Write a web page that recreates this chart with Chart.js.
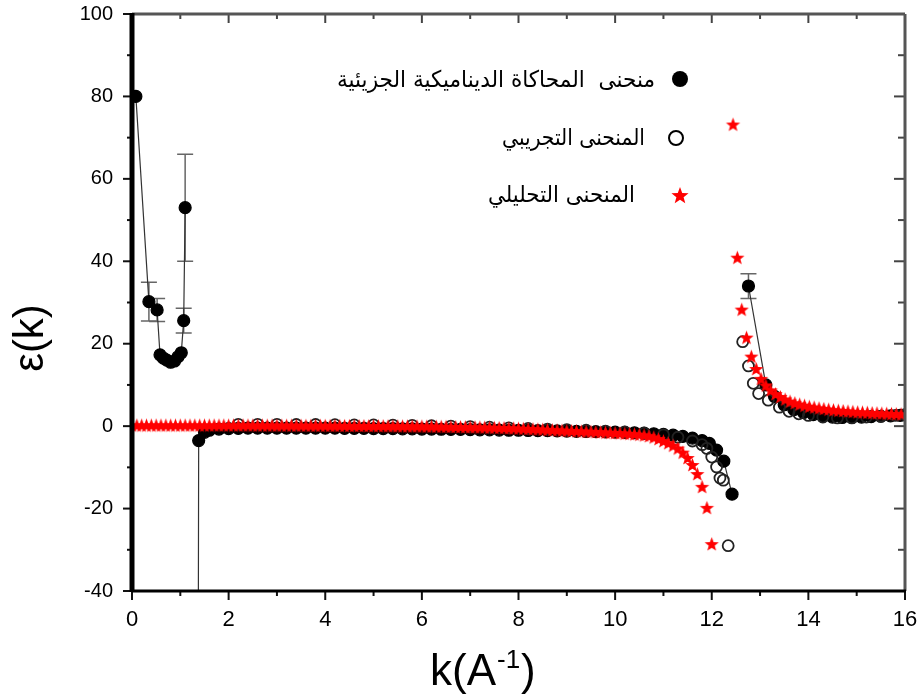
<!DOCTYPE html>
<html>
<head>
<meta charset="utf-8">
<script src="https://cdn.jsdelivr.net/npm/chart.js@4.4.0/dist/chart.umd.min.js"></script>
<style>
html, body { margin: 0; padding: 0; background: #fff; }
#chart1 { display: block; }
</style>
</head>
<body>
<canvas id="chart1" width="919" height="698"></canvas>
<script>
// molecular dynamics curve (filled dots + line), null breaks the line
const mdK = [0.08, 0.35, 0.52, 0.58, 0.65, 0.72, 0.80, 0.88, 0.95, 1.02, 1.07, 1.10, 1.20, 1.33, 1.38, 1.5, 1.6, 1.8,
    2.0, 2.2, 2.4, 2.6, 2.8, 3.0, 3.2, 3.4, 3.6, 3.8, 4.0, 4.2, 4.4, 4.6, 4.8, 5.0, 5.2, 5.4, 5.6, 5.8,
    6.0, 6.2, 6.4, 6.6, 6.8, 7.0, 7.2, 7.4, 7.6, 7.8, 8.0, 8.2, 8.4, 8.6, 8.8, 9.0, 9.2, 9.4, 9.6, 9.8,
    10.0, 10.2, 10.4, 10.6, 10.8, 11.0, 11.2, 11.4, 11.6, 11.8, 11.95, 12.1, 12.25, 12.42, 12.6,
    12.76, 13.12, 13.3, 13.5, 13.7, 13.9, 14.1, 14.3, 14.5, 14.7, 14.9, 15.1, 15.3, 15.5, 15.7, 15.9, 16.0];
const mdE = [80, 30.2, 28.2, 17.3, 16.5, 16.0, 15.5, 15.8, 16.8, 17.8, 25.6, 53, null, -300, -3.5, -1.5, -1.0, -0.7,
    -0.6, -0.55, -0.5, -0.5, -0.5, -0.5, -0.5, -0.5, -0.5, -0.5, -0.5, -0.5, -0.55, -0.55, -0.55, -0.6, -0.6, -0.6, -0.65, -0.65,
    -0.7, -0.7, -0.75, -0.8, -0.8, -0.85, -0.9, -0.9, -0.95, -1.0, -1.0, -1.05, -1.1, -1.1, -1.15, -1.2, -1.25, -1.3, -1.35, -1.4,
    -1.45, -1.5, -1.6, -1.7, -1.85, -2.0, -2.2, -2.5, -2.9, -3.5, -4.2, -5.8, -8.5, -16.5, null,
    34, 10, 7.2, 5.2, 4.0, 3.3, 2.8, 2.4, 2.2, 2.1, 2.1, 2.2, 2.3, 2.4, 2.5, 2.6, 2.7];

// error bars on some MD points
const errK = [0.35, 0.52, 1.07, 1.10, 12.76];
const errMid = [30.2, 28.2, 25.6, 53, 34];
const errHalf = [4.7, 2.8, 3.0, 13, 3.0];

// experimental curve (open circles)
const expK = [2.2, 2.6, 3.0, 3.4, 3.8, 4.2, 4.6, 5.0, 5.4, 5.8, 6.2, 6.6, 7.0, 7.4, 7.8, 8.2, 8.6, 9.0, 9.4, 9.8, 10.2, 10.6, 11.0,
    11.3, 11.6, 11.8, 11.9, 12.0, 12.1, 12.17, 12.24, 12.34,
    12.64, 12.76, 12.86, 12.97, 13.17, 13.4, 13.6, 13.8, 14.0, 14.3, 14.6, 14.9, 15.2, 15.5, 15.8, 16.0];
const expE = [0.45, 0.45, 0.45, 0.4, 0.4, 0.35, 0.3, 0.3, 0.25, 0.2, 0.1, 0.0, -0.1, -0.25, -0.4, -0.55, -0.7, -0.85, -1.0, -1.2, -1.4, -1.7, -2.1,
    -2.7, -3.6, -4.5, -5.4, -7.5, -9.9, -12.6, -13.1, -29,
    20.5, 14.6, 10.4, 7.9, 6.3, 4.6, 3.6, 3.0, 2.6, 2.2, 2.0, 2.0, 2.2, 2.4, 2.6, 2.8];

// analytical curve (red stars)
const starK = [0.0, 0.1, 0.2, 0.3, 0.4, 0.5, 0.6, 0.7, 0.8, 0.9,
    1.0, 1.1, 1.2, 1.3, 1.4, 1.5, 1.6, 1.7, 1.8, 1.9,
    2.0, 2.1, 2.2, 2.3, 2.4, 2.5, 2.6, 2.7, 2.8, 2.9,
    3.0, 3.1, 3.2, 3.3, 3.4, 3.5, 3.6, 3.7, 3.8, 3.9,
    4.0, 4.1, 4.2, 4.3, 4.4, 4.5, 4.6, 4.7, 4.8, 4.9,
    5.0, 5.1, 5.2, 5.3, 5.4, 5.5, 5.6, 5.7, 5.8, 5.9,
    6.0, 6.1, 6.2, 6.3, 6.4, 6.5, 6.6, 6.7, 6.8, 6.9,
    7.0, 7.1, 7.2, 7.3, 7.4, 7.5, 7.6, 7.7, 7.8, 7.9,
    8.0, 8.1, 8.2, 8.3, 8.4, 8.5, 8.6, 8.7, 8.8, 8.9,
    9.0, 9.1, 9.2, 9.3, 9.4, 9.5, 9.6, 9.7, 9.8, 9.9,
    10.0, 10.1, 10.2, 10.3, 10.4, 10.5, 10.6, 10.7, 10.8, 10.9,
    11.0, 11.1, 11.2, 11.3, 11.4, 11.5, 11.6, 11.7, 11.8, 11.9, 12.0,
    12.44, 12.53, 12.62, 12.72, 12.82, 12.92, 13.02, 13.12, 13.22, 13.32,
    13.42, 13.52, 13.62, 13.72, 13.82, 13.92, 14.02, 14.12, 14.22, 14.32,
    14.42, 14.52, 14.62, 14.72, 14.82, 14.92, 15.02, 15.12, 15.22, 15.32,
    15.42, 15.52, 15.62, 15.72, 15.82, 15.92];
const starE = [0.3, 0.3, 0.3, 0.3, 0.3, 0.3, 0.3, 0.3, 0.3, 0.3,
    0.3, 0.3, 0.3, 0.3, 0.3, 0.3, 0.3, 0.3, 0.3, 0.3,
    0.3, 0.3, 0.3, 0.3, 0.3, 0.28, 0.28, 0.28, 0.27, 0.27,
    0.26, 0.26, 0.25, 0.25, 0.24, 0.24, 0.23, 0.23, 0.22, 0.22,
    0.21, 0.2, 0.2, 0.19, 0.18, 0.18, 0.17, 0.16, 0.15, 0.15,
    0.14, 0.13, 0.12, 0.11, 0.1, 0.09, 0.08, 0.07, 0.06, 0.05,
    0.04, 0.03, 0.02, 0.0, -0.02, -0.04, -0.06, -0.08, -0.1, -0.12,
    -0.14, -0.16, -0.19, -0.22, -0.25, -0.28, -0.31, -0.35, -0.39, -0.43,
    -0.47, -0.52, -0.57, -0.62, -0.67, -0.72, -0.78, -0.84, -0.9, -0.96,
    -1.0, -1.05, -1.1, -1.15, -1.2, -1.25, -1.3, -1.36, -1.42, -1.48,
    -1.54, -1.6, -1.67, -1.75, -1.84, -1.95, -2.1, -2.3, -2.6, -3.0,
    -3.5, -4.0, -4.6, -5.3, -6.3, -7.6, -9.3, -11.5, -14.6, -19.7, -28.5,
    73.3, 41, 28.4, 21.6, 17, 14, 11.6, 10, 8.8, 7.9,
    7.2, 6.6, 6.1, 5.7, 5.4, 5.1, 4.85, 4.65, 4.45, 4.3,
    4.15, 4.0, 3.9, 3.8, 3.7, 3.6, 3.5, 3.45, 3.4, 3.3,
    3.25, 3.2, 3.15, 3.1, 3.05, 3.0];

const legendLabels = ['منحنى  المحاكاة الديناميكية الجزيئية', 'المنحنى التجريبي', 'المنحنى التحليلي'];
const xTitle = ['k(A', '-1', ')'];
const yTitle = 'ε(k)';

const toPoints = (ks, es) => ks.map((k, i) => ({ x: k, y: es[i] }));

// filled 5-point star used as point style
function starImage(r, color) {
    const s = Math.ceil(r * 2 + 2);
    const c = document.createElement('canvas');
    c.width = s;
    c.height = s;
    const g = c.getContext('2d');
    g.fillStyle = color;
    g.beginPath();
    for (let i = 0; i < 10; i++) {
        const rad = i % 2 ? r * 0.42 : r;
        const a = -Math.PI / 2 + i * Math.PI / 5;
        g.lineTo(s / 2 + rad * Math.cos(a), s / 2 + 1 + rad * Math.sin(a));
    }
    g.closePath();
    g.fill();
    return c;
}

const starImg = starImage(7.5, '#ff0000');
const legendStar = starImage(9, '#ff0000');

const errorBars = {
    id: 'errorBars',
    beforeDatasetsDraw(chart) {
        const { ctx, chartArea: a, scales: { x, y } } = chart;
        ctx.save();
        ctx.beginPath();
        ctx.rect(a.left, a.top, a.right - a.left, a.bottom - a.top);
        ctx.clip();
        ctx.strokeStyle = '#666';
        ctx.lineWidth = 1.5;
        errK.forEach((k, i) => {
            const px = x.getPixelForValue(k);
            const top = y.getPixelForValue(errMid[i] + errHalf[i]);
            const bot = y.getPixelForValue(errMid[i] - errHalf[i]);
            ctx.beginPath();
            ctx.moveTo(px, top); ctx.lineTo(px, bot);
            ctx.moveTo(px - 8, top); ctx.lineTo(px + 8, top);
            ctx.moveTo(px - 8, bot); ctx.lineTo(px + 8, bot);
            ctx.stroke();
        });
        ctx.restore();
    }
};

const frame = {
    id: 'frame',
    afterDatasetsDraw(chart) {
        const { ctx, chartArea: a, scales: { x, y } } = chart;
        const seg = (x1, y1, x2, y2) => { ctx.beginPath(); ctx.moveTo(x1, y1); ctx.lineTo(x2, y2); ctx.stroke(); };
        ctx.save();
        ctx.strokeStyle = '#111';
        ctx.lineWidth = 2;
        for (let v = 0; v <= 16; v++) {
            const px = x.getPixelForValue(v);
            const len = v % 2 ? 5 : 9;
            seg(px, a.bottom, px, a.bottom + len);
            ctx.strokeStyle = '#444';
            seg(px, a.top, px, a.top + len);
            ctx.strokeStyle = '#111';
        }
        for (let v = -40; v <= 100; v += 10) {
            const py = y.getPixelForValue(v);
            const len = v % 20 ? 5 : 9;
            seg(a.left - len, py, a.left, py);
            ctx.strokeStyle = '#444';
            seg(a.right - len - 2, py, a.right, py);
            ctx.strokeStyle = '#111';
        }
        ctx.strokeStyle = '#555';
        ctx.lineWidth = 3;
        seg(a.left, a.top, a.right, a.top);
        seg(a.right, a.top, a.right, a.bottom);
        ctx.strokeStyle = '#000';
        seg(a.left, a.bottom, a.right + 1, a.bottom);
        ctx.lineWidth = 5;
        seg(a.left, a.top - 1, a.left, a.bottom + 1);
        ctx.restore();
    }
};

const titlesAndLegend = {
    id: 'titlesAndLegend',
    afterDraw(chart) {
        const ctx = chart.ctx;
        ctx.save();
        ctx.fillStyle = '#000';
        // y title, rotated
        ctx.save();
        ctx.translate(31, 338);
        ctx.rotate(-Math.PI / 2);
        ctx.font = '42px "Liberation Sans", Arial, sans-serif';
        ctx.textAlign = 'center';
        ctx.textBaseline = 'middle';
        ctx.fillText(yTitle, 0, 0);
        ctx.restore();
        // x title with superscript
        let tx = 430;
        ctx.textAlign = 'left';
        ctx.textBaseline = 'alphabetic';
        ctx.font = '44px "Liberation Sans", Arial, sans-serif';
        ctx.fillText(xTitle[0], tx, 685);
        tx += ctx.measureText(xTitle[0]).width + 1;
        ctx.font = '26px "Liberation Sans", Arial, sans-serif';
        ctx.fillText(xTitle[1], tx, 668);
        tx += ctx.measureText(xTitle[1]).width + 1;
        ctx.font = '44px "Liberation Sans", Arial, sans-serif';
        ctx.fillText(xTitle[2], tx, 685);

        // legend
        ctx.font = '23px "DejaVu Sans", sans-serif';
        ctx.textAlign = 'right';
        const rows = [{ y: 87, w: 318, xr: 655 }, { y: 145, w: 143, xr: 645 }, { y: 202, w: 147, xr: 635 }];
        rows.forEach((r, i) => ctx.fillText(legendLabels[i], r.xr, r.y, r.w));
        ctx.beginPath();
        ctx.arc(680, 79, 8, 0, Math.PI * 2);
        ctx.fill();
        ctx.beginPath();
        ctx.lineWidth = 2;
        ctx.strokeStyle = '#000';
        ctx.arc(676, 138, 7, 0, Math.PI * 2);
        ctx.stroke();
        ctx.drawImage(legendStar, 680 - legendStar.width / 2, 195 - legendStar.height / 2);
        ctx.restore();
    }
};

const tickFont = (size) => ({ family: '"Liberation Sans", Arial, sans-serif', size: size });

// fixed axis boxes; label overhang is left to the layout padding
const noOverhang = (scale) => {
    scale.paddingTop = 0;
    scale.paddingBottom = 0;
    scale.paddingLeft = 0;
    scale.paddingRight = 0;
};

const ctx1 = document.getElementById('chart1').getContext('2d');

const chart1 = new Chart(ctx1, {
    type: 'scatter',
    data: {
        datasets: [{
                label: 'analytic',
                data: toPoints(starK, starE),
                pointStyle: starImg,
                showLine: false,
                order: 0,
            },
            {
                label: 'experimental',
                data: toPoints(expK, expE),
                pointStyle: 'circle',
                pointRadius: 5.5,
                pointBorderWidth: 1.8,
                pointBorderColor: '#222',
                pointBackgroundColor: 'rgba(255,255,255,0)',
                showLine: false,
                order: 1,
            },
            {
                label: 'md',
                data: toPoints(mdK, mdE),
                showLine: true,
                spanGaps: false,
                borderColor: '#333',
                borderWidth: 1.2,
                pointRadius: 6,
                pointBackgroundColor: '#000',
                pointBorderColor: '#000',
                order: 2,
            },
        ],
    },
    options: {
        responsive: false,
        animation: false,
        devicePixelRatio: 1,
        layout: {
            padding: { left: 0, top: 14, right: 14, bottom: 0 }
        },
        plugins: {
            legend: { display: false },
            tooltip: { enabled: false },
        },
        scales: {
            x: {
                type: 'linear',
                min: 0,
                max: 16,
                grid: { display: false, drawTicks: false },
                border: { display: false },
                ticks: { stepSize: 2, color: '#000', font: tickFont(22), padding: 16, maxRotation: 0 },
                afterFit(scale) { scale.height = 107; noOverhang(scale); },
            },
            y: {
                type: 'linear',
                min: -40,
                max: 100,
                grid: { display: false, drawTicks: false },
                border: { display: false },
                ticks: { stepSize: 20, color: '#000', font: tickFont(20), padding: 19 },
                afterFit(scale) { scale.width = 132; noOverhang(scale); },
            },
        },
    },
    plugins: [errorBars, frame, titlesAndLegend],
});
</script>
</body>
</html>
